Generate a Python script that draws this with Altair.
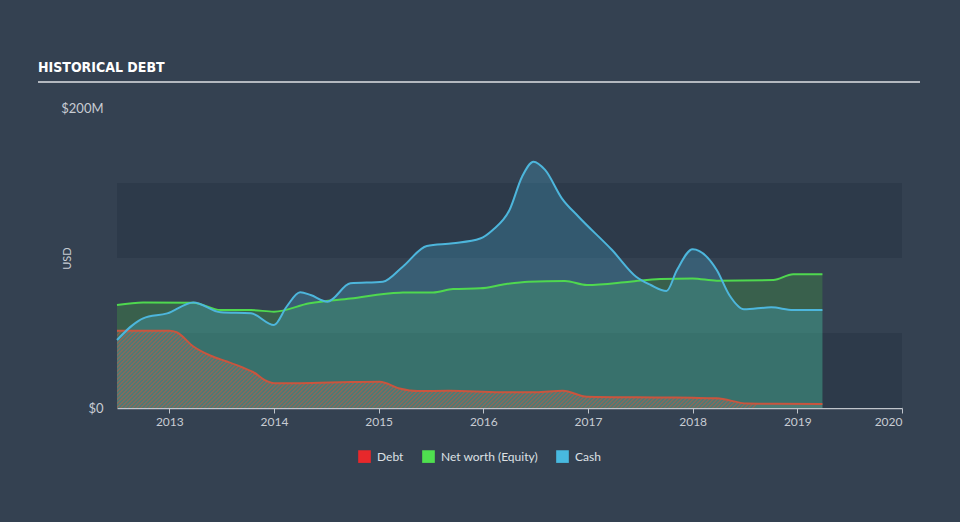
import altair as alt
import pandas as pd

# ---------------- data ----------------
debt_years = [2012.5, 2013.0, 2013.07, 2013.23, 2013.39, 2013.55, 2013.70, 2013.80, 2013.93, 2014.0,
              2014.25, 2014.73, 2015.01, 2015.20, 2015.37, 2015.68, 2016.16, 2016.5, 2016.76, 2016.99,
              2017.69, 2018.0, 2018.23, 2018.52, 2018.8, 2019.24]
debt_values = [51.5, 51.5, 50.5, 41, 35, 31, 27, 24, 18, 16.5,
               16.5, 17.3, 17.5, 13, 11.3, 11.5, 10.5, 10.5, 11.5, 7.5,
               7, 6.8, 6.5, 3, 2.8, 2.7]

equity_years = [2012.5, 2012.75, 2013.23, 2013.49, 2013.78, 2014.0, 2014.34, 2014.73, 2015.2, 2015.52,
                2015.71, 2015.97, 2016.22, 2016.43, 2016.78, 2016.99, 2017.4, 2017.69, 2018.0, 2018.23,
                2018.77, 2018.96, 2019.24]
equity_values = [68.7, 70.4, 70.2, 65.3, 65.3, 64.2, 69.8, 73, 76.9, 77,
                 79.3, 79.8, 82.7, 84.2, 84.7, 82, 84.2, 86, 86.4, 84.9,
                 85.3, 89.1, 89.1]

cash_years = [2012.5, 2012.75, 2012.98, 2013.23, 2013.49, 2013.78, 2014.0, 2014.12, 2014.25, 2014.35,
              2014.51, 2014.73, 2015.04, 2015.23, 2015.46, 2015.71, 2015.97, 2016.09, 2016.25, 2016.37,
              2016.48, 2016.59, 2016.75, 2016.91, 2017.23, 2017.46, 2017.6, 2017.75, 2017.85, 2018.0,
              2018.23, 2018.35, 2018.49, 2018.75, 2018.96, 2019.24]
cash_values = [45.3, 59.8, 63.1, 70.4, 63.8, 63.1, 55.3, 67.5, 77.1, 75.3,
               70.9, 83.1, 84.2, 94.2, 108, 109.8, 113, 118.7, 132, 154.2,
               164.2, 158.7, 139.8, 127.5, 105.3, 87.5, 82, 78, 92, 105.8,
               92, 75.3, 65.8, 67.1, 65.3, 65.3]

legend_labels = ["Debt", "Net worth (Equity)", "Cash"]
legend_colors = ["#e8282b", "#4fe04f", "#48b9e0"]

x_ticks = [2013, 2014, 2015, 2016, 2017, 2018, 2019, 2020]
x_domain = [2012.5, 2020]
y_ticks = [0, 200]
y_domain = [0, 200]
band_lo = [0, 100]
band_hi = [50, 150]

title_text = "HISTORICAL DEBT"
y_title = "USD"

# ---------------- style ----------------
W, H = 785, 300
BG = "#344151"
BAND = "#2d3a4a"
FONT = "Lato"
AXIS_COL = "#c8ccd3"

debt_df = pd.DataFrame({"year": debt_years, "value": debt_values})
equity_df = pd.DataFrame({"year": equity_years, "value": equity_values})
cash_df = pd.DataFrame({"year": cash_years, "value": cash_values})
band_df = pd.DataFrame({"lo": band_lo, "hi": band_hi,
                        "x0": [x_domain[0]] * len(band_lo), "x1": [x_domain[1]] * len(band_lo)})
legend_df = pd.DataFrame({"series": legend_labels})

xs = alt.Scale(domain=x_domain, nice=False, zero=False)
ys = alt.Scale(domain=y_domain, nice=False)

# hatch gradient for the debt area (stripes "/" at 45 degrees)
area_w = (max(debt_years) - x_domain[0]) / (x_domain[1] - x_domain[0]) * W
area_h = max(debt_values) / (y_domain[1] - y_domain[0]) * H
k = area_h / area_w
span = area_w * (1 + k * k)
period = 4.0
stripe = "rgba(205,100,78,0.5)"
gap = "rgba(150,158,150,0.22)"
stops = []
n = int(span / period) + 1
for i in range(n):
    a = min(i * period / span, 1)
    b = min((i * period + 0.4 * period) / span, 1)
    c = min((i + 1) * period / span, 1)
    stops += [alt.GradientStop(offset=a, color=stripe), alt.GradientStop(offset=b, color=stripe),
              alt.GradientStop(offset=b, color=gap), alt.GradientStop(offset=c, color=gap)]
hatch = alt.Gradient(gradient="linear", stops=stops, x1=0, y1=0, x2=1, y2=k)

x_axis = alt.Axis(values=x_ticks, format="d", title=None, grid=False, domainColor="#bfc4cb",
                  domainWidth=1.5, tickColor="#bfc4cb", tickSize=5, labelColor=AXIS_COL,
                  labelFont=FONT, labelFontSize=12, labelPadding=3)
y_axis = alt.Axis(values=y_ticks, title=y_title, grid=False, domain=False, ticks=False,
                  labelExpr="datum.value == 0 ? '$0' : '$' + datum.value + 'M'",
                  labelColor=AXIS_COL, labelFont=FONT, labelFontSize=13, labelPadding=14,
                  titleColor=AXIS_COL, titleFont=FONT, titleFontSize=11, titleFontWeight="normal",
                  titleX=-50, titleY=150, titleAngle=270, titleBaseline="middle", titleAlign="center")


def xq(field):
    return alt.X(field, scale=xs, axis=x_axis, title=None)


def yq(field):
    return alt.Y(field, scale=ys, axis=y_axis, title=y_title)


bands = alt.Chart(band_df).mark_rect(color=BAND).encode(
    x=xq("x0:Q"), x2="x1:Q", y=yq("lo:Q"), y2="hi:Q",
)


def area(df, **kw):
    return alt.Chart(df).mark_area(interpolate="monotone", **kw).encode(
        x=xq("year:Q"), y=yq("value:Q"),
    )


def line(df, color):
    return alt.Chart(df).mark_line(interpolate="monotone", color=color, strokeWidth=2).encode(
        x=xq("year:Q"), y=yq("value:Q"),
    )


equity_area = area(equity_df, color="#4bc83c", opacity=0.23)
cash_area = area(cash_df, color="#47b8e0", opacity=0.25)
debt_area = area(debt_df, fill=hatch)

debt_line = line(debt_df, "#c9553e")
equity_line = line(equity_df, "#4fd84f")
cash_line = line(cash_df, "#4db6dc")

legend_layer = alt.Chart(legend_df).mark_square(opacity=0, size=1).encode(
    color=alt.Color("series:N", scale=alt.Scale(domain=legend_labels, range=legend_colors),
                    sort=legend_labels,
                    legend=alt.Legend(orient="none", legendX=241, legendY=342, direction="horizontal",
                                      title=None, symbolType="square", symbolSize=160,
                                      symbolOpacity=1, symbolStrokeWidth=0, labelColor="#dde0e4",
                                      labelFont=FONT, labelFontSize=12, columnPadding=18,
                                      labelOffset=6, padding=0))
)

title_df = pd.DataFrame({"t": [title_text]})
title_layer = alt.Chart(title_df).mark_text(
    font="DejaVu Sans Condensed, Liberation Sans Narrow, Roboto Condensed, Roboto, sans-serif",
    fontWeight="bold", fontSize=14, color="#ffffff",
    align="left", baseline="middle"
).encode(text="t:N", x=alt.value(-79), y=alt.value(-40))

rule_layer = alt.Chart(title_df).mark_rule(color="#b3b8bf", strokeWidth=2).encode(
    x=alt.value(-79), x2=alt.value(803), y=alt.value(-26)
)

chart = alt.layer(
    bands, equity_area, cash_area, debt_area, debt_line, equity_line, cash_line,
    legend_layer, title_layer, rule_layer
).properties(
    width=W, height=H, background=BG,
    padding={"left": 117, "top": 108, "right": 58, "bottom": 114},
    autosize=alt.AutoSizeParams(type="none"),
).configure_view(stroke=None)

chart.save("out.html", embed_options={"renderer": "svg", "actions": False})
